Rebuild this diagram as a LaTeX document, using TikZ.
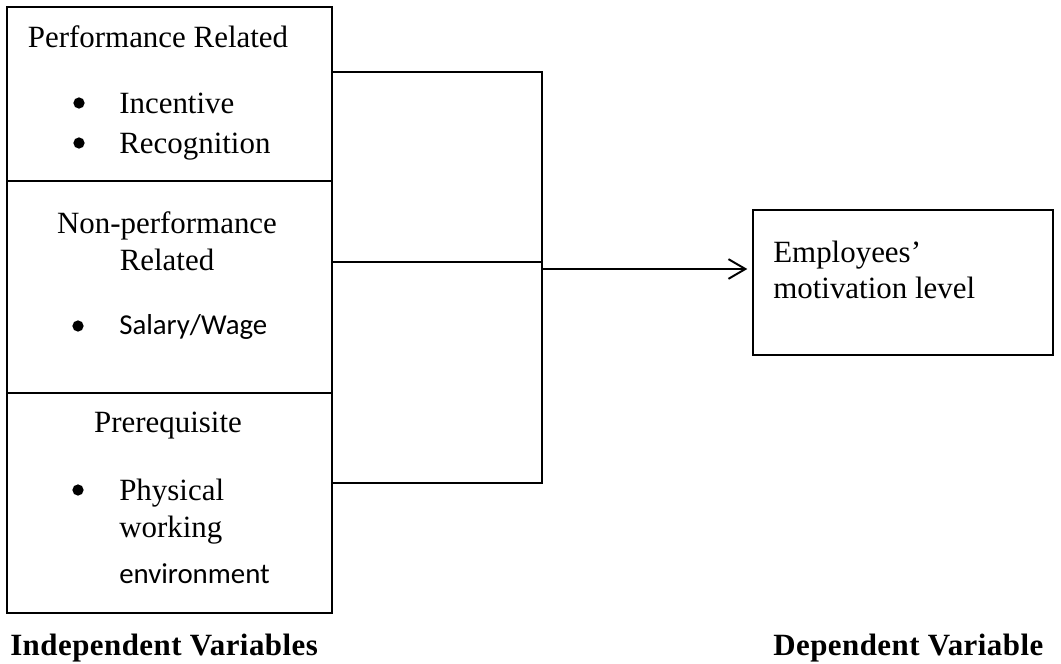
\documentclass[tikz,border=0pt]{standalone}
\usepackage{fontspec}
\setmainfont{Liberation Serif}
\newfontfamily\calibri{Carlito}
\newfontfamily\boldlabel[LetterSpace=1.5]{Liberation Serif Bold}
\usetikzlibrary{arrows.meta, fit}

\begin{document}
\begin{tikzpicture}[x=0.025cm, y=-0.025cm, >={Straight Barb[length=12pt, width=14pt]},
	varbox/.style={draw, line width=1.1pt, inner sep=0pt},
	txt/.style={anchor=base, inner sep=0pt, font=\fontsize{22}{26}\selectfont},
	item/.style={txt, anchor=base west},
	sansitem/.style={item, font=\fontsize{20.5}{26}\selectfont\calibri},
	dot/.style={circle, fill, inner sep=0pt, minimum size=8pt},
	link/.style={line width=1.4pt},
	heading/.style={anchor=base west, inner sep=0pt, font=\fontsize{22}{26}\selectfont\boldlabel}]
	\useasboundingbox (0,0) rectangle (1061,664);

	% ---------- 左侧：自变量 ----------
	\node[varbox, fit={(7,7) (332,181)}] (perf) {};
	\node[varbox, fit={(7,181) (332,393)}] (nonperf) {};
	\node[varbox, fit={(7,393) (332,613)}] (prereq) {};

	% 绩效相关
	\node[txt] (perfhead) at (158,47) {Performance Related};
	\node[dot] (b1) at (79,103) {};
	\node[item] (incent) at (119,113) {Incentive};
	\node[dot] (b2) at (79,143) {};
	\node[item] (recog) at (119,153) {Recognition};

	% 非绩效相关
	\node[txt] (nphead1) at (167,233) {Non-performance};
	\node[txt] (nphead2) at (167,270) {Related};
	\node[dot] (b3) at (78,326) {};
	\node[sansitem] (salary) at (119,334) {Salary/Wage};

	% 前提条件
	\node[txt] (prhead) at (168,432) {Prerequisite};
	\node[dot] (b4) at (78,490) {};
	\node[item] (phys) at (119,500) {Physical};
	\node[item] (work) at (119,537) {working};
	\node[sansitem] (envir) at (119,583) {environment};

	% ---------- 右侧：因变量 ----------
	\node[varbox, fit={(753,210) (1053,355)}] (outcome) {};
	\node[item] (emp1) at (773,262) {Employees’};
	\node[item] (emp2) at (773,298) {motivation level};

	% ---------- 连接线 ----------
	\coordinate (jtop) at (542,72);
	\coordinate (jmid) at (542,262);
	\coordinate (jbot) at (542,483);
	\coordinate (jout) at (542,269);
	\draw[link] (perf.east |- jtop) -- (jtop) -- (jbot) -- (prereq.east |- jbot);
	\draw[link] (nonperf.east |- jmid) -- (jmid);
	\draw[link, ->, shorten >=3.5pt] (jout) -- (outcome.west |- jout);

	% ---------- 标题 ----------
	\node[heading] (indep) at (10,655) {Independent Variables};
	\node[heading] (dep) at (773,655) {Dependent Variable};
\end{tikzpicture}
\end{document}
